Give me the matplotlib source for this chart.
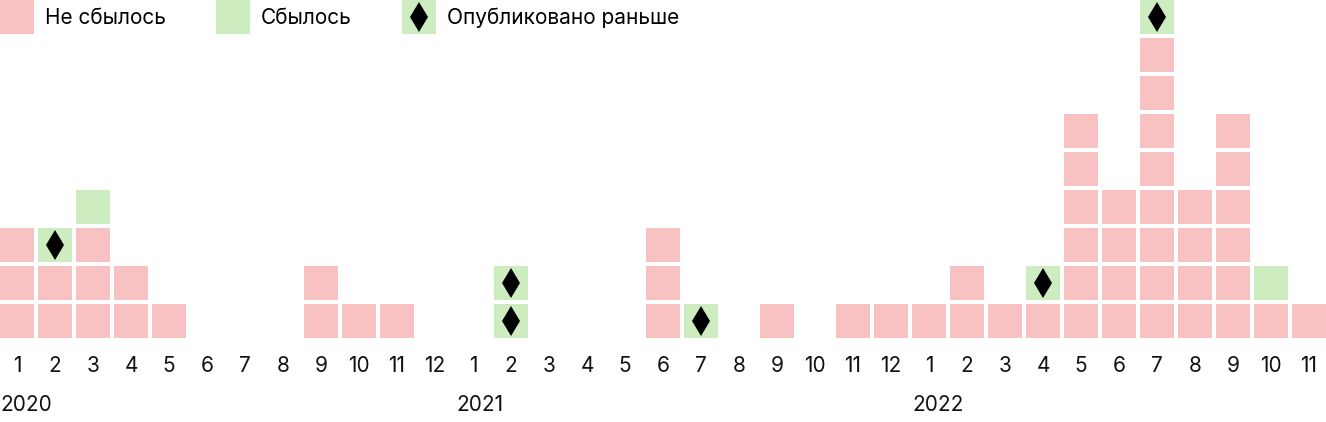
import matplotlib
matplotlib.use("Agg")
import matplotlib.pyplot as plt
from matplotlib.patches import Patch
from matplotlib.lines import Line2D
from matplotlib.legend_handler import HandlerTuple, HandlerLine2D
import matplotlib.transforms as mtransforms

plt.rcParams['font.family'] = ['Inter', 'DejaVu Sans']

month_labels = [str(m) for m in range(1, 13)] * 2 + [str(m) for m in range(1, 12)]
years = ["2020", "2021", "2022"]
year_start_idx = [0, 12, 24]

not_fulfilled = [3, 2, 3, 2, 1, 0, 0, 0, 2, 1, 1, 0,
                 0, 0, 0, 0, 0, 3, 0, 0, 1, 0, 1, 1,
                 1, 2, 1, 1, 6, 4, 8, 4, 6, 1, 1]
fulfilled = [0, 0, 1, 0, 0, 0, 0, 0, 0, 0, 0, 0,
             0, 0, 0, 0, 0, 0, 0, 0, 0, 0, 0, 0,
             0, 0, 0, 0, 0, 0, 0, 0, 0, 1, 0]
published_early = [0, 1, 0, 0, 0, 0, 0, 0, 0, 0, 0, 0,
                   0, 2, 0, 0, 0, 0, 1, 0, 0, 0, 0, 0,
                   0, 0, 0, 1, 0, 0, 1, 0, 0, 0, 0]

legend_labels = ["Не сбылось", "Сбылось", "Опубликовано раньше"]

PINK = "#f9c2c2"
GREEN = "#cdecc0"
FS = 15


class CenteredLine(HandlerLine2D):
    def create_artists(self, legend, orig_handle, xdescent, ydescent,
                       width, height, fontsize, trans):
        return super().create_artists(legend, orig_handle, xdescent, ydescent,
                                      width, height - ydescent, fontsize, trans)


W, H = 1326, 422
fig = plt.figure(figsize=(W / 100, H / 100), dpi=100)
step = 38.0
size = 34.0 / step
ax = fig.add_axes([0, (H - 338) / H, 1, 338 / H])
ax.set_xlim(-17 / step, (W - 17) / step)
ax.set_ylim(0, 338 / step)
for s in ax.spines.values():
    s.set_visible(False)
ax.set_yticks([])

xs, bottoms, colors, dx, dy = [], [], [], [], []
for i in range(len(month_labels)):
    level = 0
    for count, col, mark in ((not_fulfilled[i], PINK, False),
                             (fulfilled[i], GREEN, False),
                             (published_early[i], GREEN, True)):
        for _ in range(count):
            xs.append(i)
            bottoms.append(level)
            colors.append(col)
            if mark:
                dx.append(i)
                dy.append(level + size / 2)
            level += 1

ax.bar(xs, [size] * len(xs), bottom=bottoms, width=size, color=colors,
       linewidth=0, align='center')
ax.plot(dx, dy, linestyle='none', marker='d', color='black', markersize=15,
        markeredgewidth=0)

ax.set_xticks(range(len(month_labels)))
ax.set_xticklabels(month_labels, fontsize=FS, color='#111111')
ax.tick_params(axis='x', length=0, pad=13)

trans = mtransforms.blended_transform_factory(ax.transData, fig.transFigure)
for yl, idx in zip(years, year_start_idx):
    ax.text(idx - 17 / step, (H - 405) / H, yl, transform=trans, ha='left',
            va='center', fontsize=FS, color='#111111')

box_pt = 34 * 0.72
hh = (box_pt / FS - 0.245) / 0.65
handles = [Patch(facecolor=PINK, edgecolor='none'),
           Patch(facecolor=GREEN, edgecolor='none'),
           (Patch(facecolor=GREEN, edgecolor='none'),
            Line2D([], [], linestyle='none', marker='d', color='black',
                   markersize=15, markeredgewidth=0))]
fig.legend(handles, legend_labels, loc='upper left', bbox_to_anchor=(0, 1),
           ncol=3, frameon=False, fontsize=FS, borderpad=0, borderaxespad=0,
           handlelength=box_pt / FS, handleheight=hh, handletextpad=0.53,
           columnspacing=2.4,
           handler_map={tuple: HandlerTuple(ndivide=1, pad=0),
                        Line2D: CenteredLine()})

fig.savefig("out.png", dpi=100)
